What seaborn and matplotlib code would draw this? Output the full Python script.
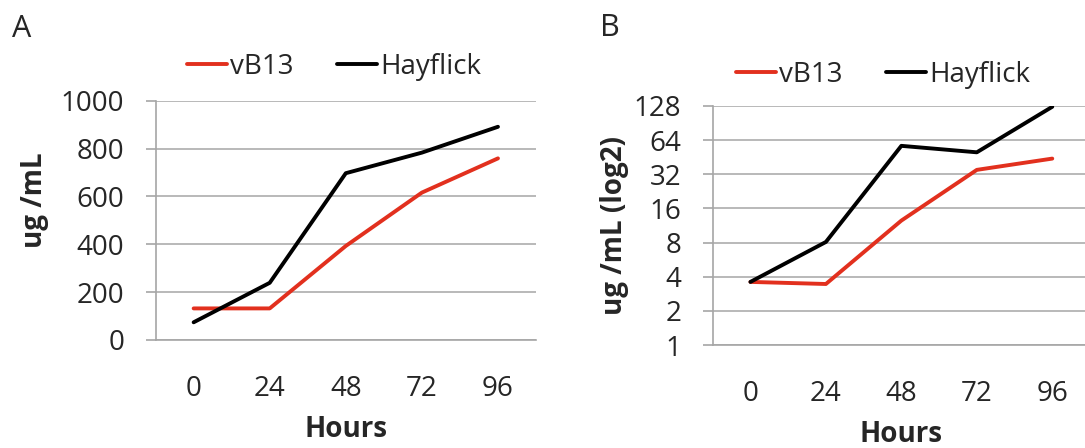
import numpy as np
import pandas as pd
import matplotlib
matplotlib.use("Agg")
import matplotlib.pyplot as plt
import seaborn as sns

# values
hours = ["0", "24", "48", "72", "96"]
vb13_lin = [132, 132, 393, 616, 759]
hayflick_lin = [74, 239, 697, 783, 891]
vb13_log = [3.6, 3.45, 12.5, 35, 44]
hayflick_log = [3.6, 8.1, 57, 50, 126]
log_ticks = [1, 2, 4, 8, 16, 32, 64, 128]
lin_ticks = [0, 200, 400, 600, 800, 1000]

red = "#E2301E"
grid_col = "#A6A6A6"
palette = {"vB13": red, "Hayflick": "black"}

sns.set_style("white")
plt.rcParams["font.family"] = ["Open Sans", "DejaVu Sans"]
fs = 20


def long_df(a, b):
    pos = np.arange(len(hours))
    return pd.concat([
        pd.DataFrame({"pos": pos, "val": a, "sample": "vB13"}),
        pd.DataFrame({"pos": pos, "val": b, "sample": "Hayflick"}),
    ], ignore_index=True)


df_a = long_df(vb13_lin, hayflick_lin)
df_b = long_df(vb13_log, hayflick_log)

W, H = 1085, 448
fig = plt.figure(figsize=(W / 100, H / 100), dpi=100)
axA = fig.add_axes([155.6 / W, 1 - 340 / H, 380.4 / W, 239.3 / H])
axB = fig.add_axes([712.7 / W, 1 - 345 / H, 377.3 / W, 239 / H])


def style_axes(ax):
    ax.set_xlim(-0.5, 4.5)
    ax.set_xticks(range(len(hours)))
    ax.set_xticklabels(hours)
    ax.set_xticks([-0.5, 0.5, 1.5, 2.5, 3.5, 4.5], minor=True)
    ax.tick_params(axis="x", which="major", length=0, pad=25, labelsize=fs)
    ax.tick_params(axis="x", which="minor", length=7.2, width=1.2, color=grid_col, direction="out")
    ax.tick_params(axis="y", which="major", length=7.2, width=1.2, color=grid_col,
                   direction="out", pad=15.5, labelsize=fs, left=True)
    ax.tick_params(axis="y", which="minor", length=0)
    ax.grid(axis="y", color=grid_col, linewidth=1.1)
    ax.grid(axis="x", visible=False)
    for s in ["top", "right"]:
        ax.spines[s].set_visible(False)
    for s in ["left", "bottom"]:
        ax.spines[s].set_color(grid_col)
        ax.spines[s].set_linewidth(1.2)
    ax.set_axisbelow(True)


def add_legend(ax, x, y):
    h, l = ax.get_legend_handles_labels()
    ax.legend(h, l, loc="center left", bbox_to_anchor=(x / W, 1 - y / H),
              bbox_transform=fig.transFigure, ncol=2, frameon=False, fontsize=fs,
              handlelength=1.44, handletextpad=0.1, columnspacing=1.58,
              borderpad=0, borderaxespad=0)


# Panel A
sns.lineplot(data=df_a, x="pos", y="val", hue="sample", palette=palette,
             linewidth=2.8, ax=axA, legend=True)
axA.set_ylim(0, 1000)
axA.set_yticks(lin_ticks)
style_axes(axA)
axA.set_xlabel("Hours", fontsize=fs, fontweight="bold", va="baseline")
axA.xaxis.set_label_coords(0.5, -0.405)
axA.set_ylabel("ug /mL", fontsize=fs, fontweight="bold", va="center")
axA.yaxis.set_label_coords(-0.318, 0.585)
add_legend(axA, 187, 67)

# Panel B
sns.lineplot(data=df_b, x="pos", y="val", hue="sample", palette=palette,
             linewidth=2.8, ax=axB, legend=True)
axB.set_yscale("log", base=2)
axB.set_ylim(1, 128)
axB.set_yticks(log_ticks)
axB.set_yticklabels([str(t) for t in log_ticks])
style_axes(axB)
axB.set_xlabel("Hours", fontsize=fs, fontweight="bold", va="baseline")
axB.xaxis.set_label_coords(0.5, -0.406)
axB.set_ylabel("ug /mL (log2)", fontsize=fs, fontweight="bold", va="center")
axB.yaxis.set_label_coords(-0.26, 0.502)
add_legend(axB, 736, 75)

fig.text(22 / W, 1 - 29 / H, "A", fontsize=22, ha="center", va="center")
fig.text(610 / W, 1 - 28 / H, "B", fontsize=22, ha="center", va="center")

fig.savefig("out.png", dpi=100)
